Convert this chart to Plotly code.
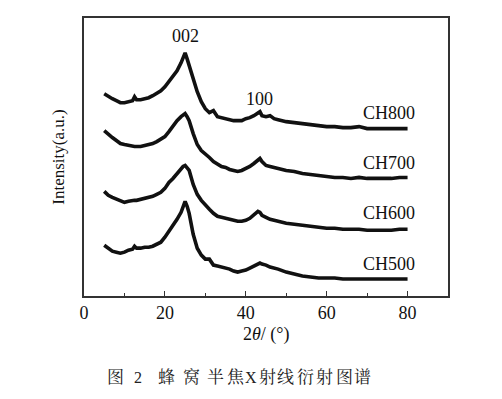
import plotly.graph_objects as go

# 2θ positions (degrees) at which intensities were read
two_theta = [5, 6, 7, 8, 9, 10, 11, 12, 12.5, 13, 14, 15, 16, 17, 18, 19, 20, 21, 22, 23,
             24, 24.5, 25, 25.5, 26, 27, 28, 29, 30, 31, 32, 33, 34, 35, 36, 37, 38, 39,
             40, 41, 42, 43, 43.5, 44, 45, 46, 47, 48, 50, 52, 54, 56, 58, 60, 62, 64,
             66, 68, 70, 72, 74, 76, 78, 80]

# Offset intensities (arbitrary units)
ch800 = [203, 200, 198, 196, 194, 194, 195, 196, 200, 197, 197, 198, 199, 201, 203, 206,
         210, 215, 220, 226, 234, 238, 244, 238, 231, 216, 205, 195, 188, 184, 186, 180,
         179, 178, 177, 176, 176, 176, 178, 179, 181, 184, 185, 181, 180, 181, 178, 177,
         175, 174, 173, 172, 171, 170, 170, 169, 169, 170, 168, 168, 168, 168, 168, 168]
ch700 = [166, 162, 159, 156, 153, 152, 151, 150, 150, 150, 150, 151, 152, 153, 155, 157,
         160, 165, 171, 176, 180, 182, 183, 180, 176, 163, 152, 146, 143, 139, 135, 132,
         130, 129, 127, 126, 125, 126, 128, 130, 133, 137, 138, 135, 131, 130, 129, 128,
         126, 125, 123, 122, 121, 120, 119, 119, 118, 119, 118, 118, 118, 118, 119, 119]
ch600 = [105, 101, 99, 97, 95, 94, 95, 96, 96, 96, 97, 98, 99, 100, 102, 104,
         108, 114, 118, 123, 128, 130, 131, 129, 126, 112, 102, 96, 91, 87, 83, 80,
         79, 78, 77, 76, 75, 75, 76, 78, 81, 85, 84, 81, 79, 77, 76, 75,
         73, 72, 71, 70, 69, 68, 68, 67, 67, 67, 66, 66, 66, 66, 67, 67]
ch500 = [51, 48, 45, 44, 43, 44, 46, 47, 50, 48, 48, 49, 49, 50, 52, 54,
         59, 65, 70, 77, 84, 89, 95, 90, 83, 62, 48, 41, 37, 37, 31, 30,
         29, 28, 27, 25, 24, 25, 26, 28, 30, 32, 33, 32, 31, 29, 28, 27,
         24, 22, 20, 19, 18, 18, 18, 17, 17, 17, 17, 17, 17, 17, 17, 17]

series = [("CH800", ch800), ("CH700", ch700), ("CH600", ch600), ("CH500", ch500)]
label_y = [184, 133, 83, 32]
peak_labels = ["002", "100"]
peak_pos = [(25.2, 261), (43.5, 198)]

x_ticks = [0, 20, 40, 60, 80]

serif = "Liberation Serif, Times New Roman, serif"

fig = go.Figure()
for name, ys in series:
    fig.add_trace(go.Scatter(x=two_theta, y=ys, mode="lines", name=name,
                             line=dict(color="#111111", width=3.6),
                             showlegend=False, hoverinfo="skip"))

annotations = []
for (name, _), ly in zip(series, label_y):
    annotations.append(dict(x=82.4, y=ly, xref="x", yref="y", text=name, showarrow=False,
                            xanchor="right", yanchor="middle",
                            font=dict(family=serif, size=18, color="#111")))
for txt, (px, py) in zip(peak_labels, peak_pos):
    annotations.append(dict(x=px, y=py, xref="x", yref="y", text=txt, showarrow=False,
                            xanchor="center", yanchor="middle",
                            font=dict(family=serif, size=18, color="#111")))

# caption below the chart (pixel centres)
cjk = "Noto Serif CJK SC, Noto Sans CJK SC, sans-serif"
caption_parts = [("图", 115), ("2", 138), ("蜂", 166), ("窝", 191), ("半", 215),
                 ("焦", 236), ("X", 251), ("射", 267), ("线", 285), ("衍", 305),
                 ("射", 324), ("图", 344), ("谱", 362)]

W, H = 502, 399
ml, mr, mt, mb = 84, 54, 18, 103
pw, ph = W - ml - mr, H - mt - mb
for ch, px in caption_parts:
    is_latin = ch in ("2", "X")
    annotations.append(dict(x=(px - ml) / pw, y=(H - mb - (377 if is_latin else 375)) / ph,
                            xref="paper", yref="paper", text=ch,
                            showarrow=False, xanchor="center", yanchor="middle",
                            font=dict(family=serif if is_latin else cjk,
                                      size=16 if is_latin else 17, color="#222")))

annotations.append(dict(x=0.5, y=-0.095, xref="paper", yref="paper",
                        text="2<i>θ</i>/ (°)", showarrow=False, xanchor="center",
                        yanchor="top", font=dict(family=serif, size=18, color="#111")))

fig.update_layout(
    width=W, height=H,
    margin=dict(l=ml, r=mr, t=mt, b=mb),
    paper_bgcolor="white", plot_bgcolor="white",
    annotations=annotations,
    xaxis=dict(range=[0, 90], tickvals=x_ticks, ticks="inside", ticklen=5,
               tickwidth=1.2, tickcolor="#333",
               minor=dict(dtick=10, tick0=0, ticks="inside", ticklen=3,
                          tickcolor="#333", tickwidth=1),
               showline=True, linecolor="#333", linewidth=1.5, mirror=True,
               showgrid=False, zeroline=False,
               tickfont=dict(family=serif, size=18, color="#111")),
    yaxis=dict(range=[0, 279], showticklabels=False, ticks="",
               showline=True, linecolor="#333", linewidth=1.5, mirror=True,
               showgrid=False, zeroline=False,
               title=dict(text="Intensity(a.u.)", standoff=13,
                          font=dict(family=serif, size=17, color="#111"))),
)

fig.write_html("out.html", config={"displayModeBar": False},
               post_script="document.body.style.margin='0';document.body.style.overflow='hidden';")
